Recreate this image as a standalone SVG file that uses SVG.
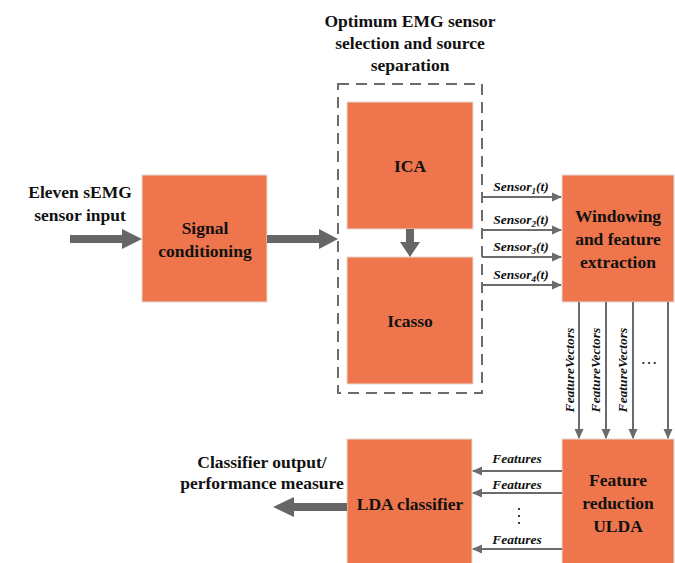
<svg xmlns="http://www.w3.org/2000/svg" width="675" height="563" viewBox="0 0 675 563">
<style>
.box{fill:#EE754C;stroke:#E8DCD6;stroke-width:1}
.t{font-family:'Liberation Serif','Times New Roman','DejaVu Serif',serif;font-weight:bold;font-size:17.5px;fill:#111;text-anchor:middle}
.l{font-family:'Liberation Serif','Times New Roman','DejaVu Serif',serif;font-weight:bold;font-style:italic;font-size:13.5px;fill:#111;text-anchor:middle}
.thin{stroke:#6b6b6b;stroke-width:2;fill:none}
.thick{stroke:#666;stroke-width:8;fill:none}
.head{fill:#666}
</style>
<defs>
<marker id="a" markerWidth="10" markerHeight="10" refX="9" refY="5" orient="auto" markerUnits="userSpaceOnUse"><path d="M0,0.5 L10,5 L0,9.5 Z" fill="#6b6b6b"/></marker>
</defs>
<rect width="675" height="563" fill="#fff"/>
<g id="group-dashed">
<rect x="338" y="84" width="144" height="309" fill="none" stroke="#6b6b6b" stroke-width="2" stroke-dasharray="11,7"/>
<text class="t" x="410" y="27">Optimum EMG sensor</text>
<text class="t" x="410" y="49">selection and source</text>
<text class="t" x="410" y="71">separation</text>
</g>
<g id="input-label">
<text class="t" x="80" y="198">Eleven sEMG</text>
<text class="t" x="80" y="221">sensor input</text>
</g>
<g id="signal">
<rect class="box" x="142" y="175" width="125" height="127"/>
<text class="t" x="205" y="234">Signal</text>
<text class="t" x="205" y="257">conditioning</text>
</g>
<g id="ica">
<rect class="box" x="347" y="102" width="126" height="127"/>
<text class="t" x="410" y="172">ICA</text>
</g>
<g id="icasso">
<rect class="box" x="347" y="257" width="126" height="127"/>
<text class="t" x="410" y="327">Icasso</text>
</g>
<g id="windowing">
<rect class="box" x="562" y="175" width="112" height="127"/>
<text class="t" x="618" y="222">Windowing</text>
<text class="t" x="618" y="245">and feature</text>
<text class="t" x="618" y="268">extraction</text>
</g>
<g id="reduction">
<rect class="box" x="562" y="439" width="112" height="126"/>
<text class="t" x="618" y="486">Feature</text>
<text class="t" x="618" y="509">reduction</text>
<text class="t" x="618" y="532">ULDA</text>
</g>
<g id="lda">
<rect class="box" x="347" y="439" width="125" height="126"/>
<text class="t" x="410" y="510">LDA classifier</text>
</g>
<g id="output-label">
<text class="t" x="262" y="468">Classifier output/</text>
<text class="t" x="262" y="489">performance measure</text>
</g>
<g id="connectors">
<line class="thick" x1="70" y1="239" x2="123" y2="239"/>
<path class="head" d="M122,229 L142,239 L122,249 Z"/>
<line class="thick" x1="267" y1="239" x2="320" y2="239"/>
<path class="head" d="M319,229 L338,239 L319,249 Z"/>
<line class="thick" x1="410" y1="229" x2="410" y2="243"/>
<path class="head" d="M400,242 L420,242 L410,257 Z"/>
<line class="thick" x1="347" y1="507" x2="293" y2="507"/>
<path class="head" d="M294,497 L273,507 L294,517 Z"/>
<line class="thin" x1="482" y1="197" x2="561" y2="197" marker-end="url(#a)"/>
<line class="thin" x1="482" y1="230" x2="561" y2="230" marker-end="url(#a)"/>
<line class="thin" x1="482" y1="257" x2="561" y2="257" marker-end="url(#a)"/>
<line class="thin" x1="482" y1="285" x2="561" y2="285" marker-end="url(#a)"/>
<text class="l" x="521" y="191">Sensor<tspan font-size="9" dy="3">1</tspan><tspan dy="-3">(t)</tspan></text>
<text class="l" x="521" y="224">Sensor<tspan font-size="9" dy="3">2</tspan><tspan dy="-3">(t)</tspan></text>
<text class="l" x="521" y="251">Sensor<tspan font-size="9" dy="3">3</tspan><tspan dy="-3">(t)</tspan></text>
<text class="l" x="521" y="279">Sensor<tspan font-size="9" dy="3">4</tspan><tspan dy="-3">(t)</tspan></text>
<line class="thin" x1="579" y1="302" x2="579" y2="438" marker-end="url(#a)"/>
<line class="thin" x1="606" y1="302" x2="606" y2="438" marker-end="url(#a)"/>
<line class="thin" x1="633" y1="302" x2="633" y2="438" marker-end="url(#a)"/>
<line class="thin" x1="668" y1="302" x2="668" y2="438" marker-end="url(#a)"/>
<text class="l" transform="translate(574,370) rotate(-90)">FeatureVectors</text>
<text class="l" transform="translate(600,370) rotate(-90)">FeatureVectors</text>
<text class="l" transform="translate(627,370) rotate(-90)">FeatureVectors</text>
<text class="l" x="649" y="364" style="font-style:normal;font-weight:normal;font-size:17px">…</text>
<line class="thin" x1="562" y1="471" x2="473" y2="471" marker-end="url(#a)"/>
<line class="thin" x1="562" y1="493" x2="473" y2="493" marker-end="url(#a)"/>
<line class="thin" x1="562" y1="549" x2="473" y2="549" marker-end="url(#a)"/>
<text class="l" x="517" y="463">Features</text>
<text class="l" x="517" y="489">Features</text>
<text class="l" x="517" y="544">Features</text>
<circle cx="519" cy="509" r="1.1" fill="#111"/>
<circle cx="519" cy="516" r="1.1" fill="#111"/>
<circle cx="519" cy="523" r="1.1" fill="#111"/>
</g>
</svg>
